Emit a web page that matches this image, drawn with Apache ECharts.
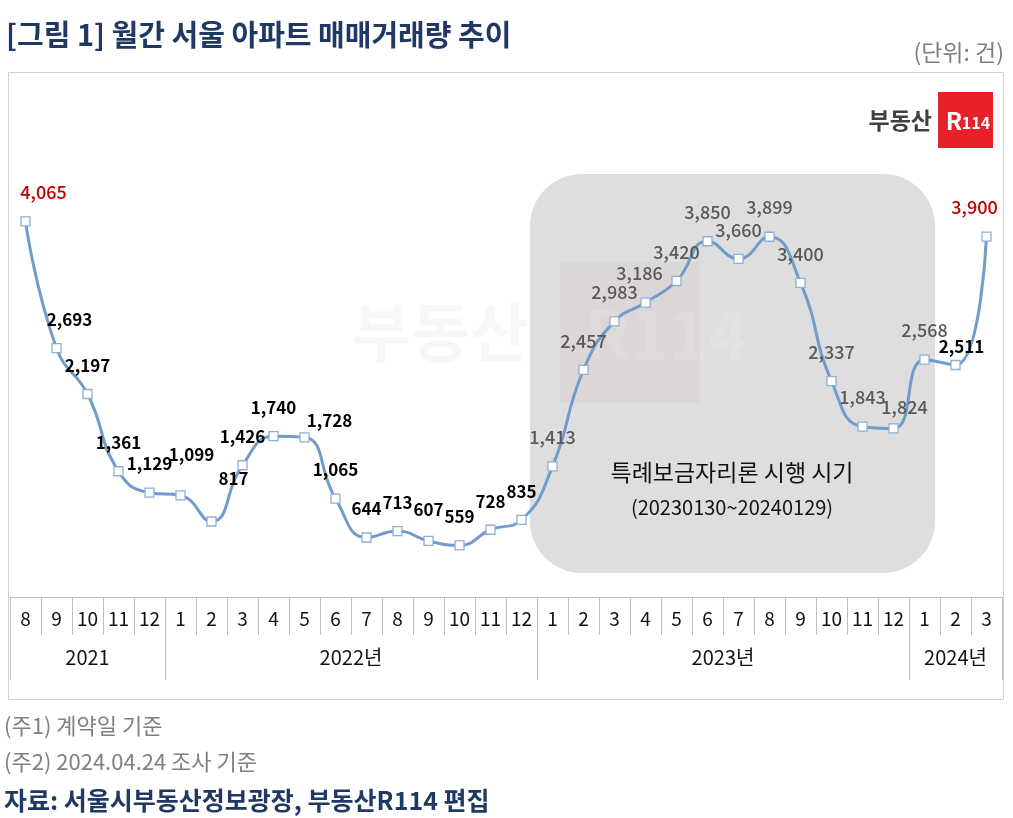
<!DOCTYPE html>
<html><head><meta charset="utf-8">
<script src="https://cdn.jsdelivr.net/npm/echarts@6/dist/echarts.min.js"></script>
<style>html,body{margin:0;padding:0;background:#fff}#c{width:1013px;height:818px}</style>
</head><body><div id="c"></div>
<script>
const months = ['8','9','10','11','12','1','2','3','4','5','6','7','8','9','10','11','12','1','2','3','4','5','6','7','8','9','10','11','12','1','2','3'];
const values = [4065,2693,2197,1361,1129,1099,817,1426,1740,1728,1065,644,713,607,559,728,835,1413,2457,2983,3186,3420,3850,3660,3899,3400,2337,1843,1824,2568,2511,3900];
const yearLabels = ['2021','2022년','2023년','2024년'];
const yearMonthCounts = [5,12,12,3];
// label tone per point: r = red highlight, g = gray (policy period), k = black
const labelTone = ['r','k','k','k','k','k','k','k','k','k','k','k','k','k','k','k','k','g','g','g','g','g','g','g','g','g','g','g','g','g','k','r'];
const labelOffsets = {0:[18,0],1:[13,0],5:[11,-12],6:[22,-14],9:[25,12],13:[0,-3],20:[-6,0],28:[11,8],30:[6,10],31:[-12,0]};

const toneColor = {r:'#c00000', g:'#595959', k:'#000000'};
const bounds = [0]; yearMonthCounts.forEach(c => bounds.push(bounds[bounds.length-1]+c));
const centers = yearMonthCounts.map((c,i)=> bounds[i] + c/2);

const chart = echarts.init(document.getElementById('c'));
const font = '"Noto Sans CJK KR","Noto Sans",sans-serif';
chart.setOption({
  animation:false,
  textStyle:{fontFamily:font},
  grid:{left:10,right:11,top:135,bottom:221},
  yAxis:{type:'value',min:0,max:5000,show:false},
  xAxis:[{
    type:'category',data:months,position:'bottom',
    axisLine:{show:true,lineStyle:{color:'#bfbfbf',width:1}},
    axisTick:{show:true,interval:0,length:38,lineStyle:{color:'#bfbfbf'}},
    axisLabel:{interval:0,margin:12,fontSize:19,color:'#111',fontFamily:font}
  },{
    type:'value',min:0,max:bounds[bounds.length-1],position:'bottom',
    axisLine:{show:false},splitLine:{show:false},
    axisTick:{show:true,customValues:bounds,length:83,lineStyle:{color:'#bfbfbf'}},
    axisLabel:{customValues:centers,margin:50,fontSize:20,color:'#111',fontFamily:font,
      formatter:(v)=>{const i=centers.indexOf(v);return i>=0?yearLabels[i]:'';}}
  }],
  graphic:[
    {type:'rect',z:-10,shape:{x:8.5,y:72.5,width:995,height:627},style:{fill:'none',stroke:'#d0d0d0',lineWidth:1}},
    {type:'rect',z:-5,shape:{x:530,y:174,width:405,height:399,r:52},style:{fill:'#dedede'}},
    {type:'text',z:-4,x:352,y:332,style:{text:'부동산',font:'bold 64px '+font,fill:'rgba(0,0,0,0.03)',textVerticalAlign:'middle'}},
    {type:'rect',z:-4,shape:{x:560,y:262,width:140,height:141},style:{fill:'rgba(190,60,60,0.045)'}},
    {type:'text',z:-4,x:585,y:334,style:{text:'R114',font:'bold 66px '+font,fill:'rgba(255,255,255,0.12)',textVerticalAlign:'middle'}},
    {type:'text',x:6,y:35,style:{text:'[그림 1] 월간 서울 아파트 매매거래량 추이',font:'bold 29px '+font,fill:'#1f3864',textVerticalAlign:'middle'}},
    {type:'text',x:1004,y:52,style:{text:'(단위: 건)',font:'23px '+font,fill:'#7f7f7f',textAlign:'right',textVerticalAlign:'middle'}},
    {type:'text',x:932,y:120,style:{text:'부동산',font:'bold 23px '+font,fill:'#404040',textAlign:'right',textVerticalAlign:'middle'}},
    {type:'rect',shape:{x:938,y:92,width:55,height:56},style:{fill:'#e8202a'}},
    {type:'text',x:954,y:121,style:{text:'R',font:'bold 24px '+font,fill:'#fff',textAlign:'center',textVerticalAlign:'middle'}},
    {type:'text',x:976,y:123,style:{text:'114',font:'bold 16px '+font,fill:'#fff',textAlign:'center',textVerticalAlign:'middle'}},
    {type:'text',x:732,y:472,style:{text:'특례보금자리론 시행 시기',font:'23px '+font,fill:'#111',textAlign:'center',textVerticalAlign:'middle'}},
    {type:'text',x:732,y:507,style:{text:'(20230130~20240129)',font:'20px '+font,fill:'#111',textAlign:'center',textVerticalAlign:'middle'}},
    {type:'text',x:4,y:726,style:{text:'(주1) 계약일 기준',font:'22px '+font,fill:'#808080',textVerticalAlign:'middle'}},
    {type:'text',x:4,y:762,style:{text:'(주2) 2024.04.24 조사 기준',font:'22px '+font,fill:'#808080',textVerticalAlign:'middle'}},
    {type:'text',x:4,y:800,style:{text:'자료: 서울시부동산정보광장, 부동산R114 편집',font:'bold 25px '+font,fill:'#1f3864',textVerticalAlign:'middle'}}
  ],
  series:[{
    type:'line',xAxisIndex:0,smooth:0.5,
    symbol:'rect',symbolSize:9,
    lineStyle:{color:'#6f9ccb',width:3},
    itemStyle:{color:'#fff',borderColor:'#8fb0d6',borderWidth:1.3},
    label:{show:true,position:'top',distance:15,fontFamily:font,
      formatter:(p)=>p.value.toLocaleString('en-US')},
    data:values.map((v,i)=>({value:v,label:{color:toneColor[labelTone[i]],offset:labelOffsets[i]||[0,0],
      fontSize: labelTone[i]==='k'?17:18,
      fontWeight: labelTone[i]==='k'?'bold':500}}))
  }]
});
</script></body></html>
